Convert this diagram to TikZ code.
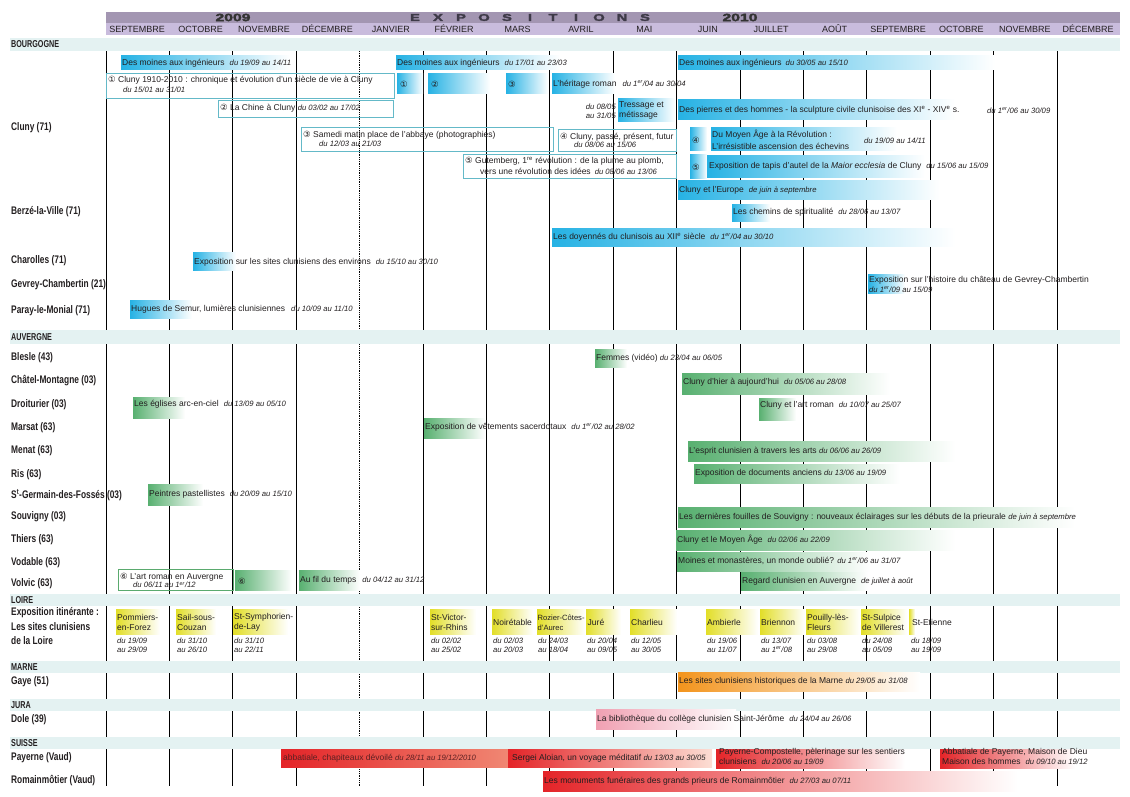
\documentclass[tikz,border=0pt]{standalone}
\usepackage{fontspec}
\setmainfont{Liberation Sans}
\newfontfamily\placefont[FakeStretch=0.76]{Liberation Sans}
\newfontfamily\regionfont[FakeStretch=0.72]{Liberation Sans}
\newfontfamily\widefont[FakeStretch=1.5,FakeBold=3]{Liberation Sans}
\newfontfamily\circfont{DejaVu Sans}

\definecolor{yearbar}{RGB}{163,150,178}
\definecolor{monthbar}{RGB}{201,188,221}
\definecolor{sectbar}{RGB}{228,242,242}
\definecolor{expogrey}{RGB}{62,58,72}
\definecolor{inkx}{RGB}{35,31,32}
\definecolor{cyanx}{RGB}{38,178,228}
\definecolor{greenx}{RGB}{88,176,112}
\definecolor{yellowx}{RGB}{226,222,40}
\definecolor{orangex}{RGB}{243,148,28}
\definecolor{pinkx}{RGB}{240,160,178}
\definecolor{redx}{RGB}{228,36,40}
\definecolor{salmonx}{RGB}{240,135,115}
\definecolor{blushx}{RGB}{252,222,212}
\definecolor{boxline}{RGB}{100,185,200}
\definecolor{greenline}{RGB}{90,170,110}

\newcommand{\dates}[1]{{\fontsize{7.7}{8}\selectfont\itshape #1}}
\newcommand{\circnum}[1]{{\circfont #1}}

\tikzset{
  yearlbl/.style={font=\widefont\bfseries\fontsize{10.5}{11}\selectfont, text=black!80, inner sep=0pt},
  expolbl/.style={font=\widefont\bfseries\fontsize{9.8}{10}\selectfont, text=expogrey, inner sep=0pt},
  monthlbl/.style={font=\fontsize{9}{9}\selectfont, text=inkx, inner sep=0pt},
  region/.style={anchor=west, inner sep=0pt, font=\regionfont\bfseries\fontsize{10}{11}\selectfont, text=inkx},
  place/.style={anchor=west, inner sep=0pt, font=\placefont\bfseries\fontsize{11}{12}\selectfont, text=inkx},
  ev/.style={anchor=west, inner sep=0pt, font=\fontsize{8.5}{10.2}\selectfont, text=inkx, align=left},
  dt/.style={anchor=west, inner sep=0pt, font=\fontsize{7.7}{9}\selectfont\itshape, text=inkx, align=left},
  monthline/.style={line width=0.8pt},
  cyanbar/.style={left color=cyanx, right color=white},
  greenbar/.style={left color=greenx, right color=white},
  yellowbar/.style={left color=yellowx, right color=white},
  orangebar/.style={left color=orangex, right color=white},
  pinkbar/.style={left color=pinkx, right color=white},
  redbar/.style={left color=redx, right color=white},
  bluebox/.style={draw=boxline, line width=0.6pt},
  greenbox/.style={draw=greenline, line width=0.6pt},
}

\begin{document}
\begin{tikzpicture}[x=1pt,y=-1pt]
    \useasboundingbox (0,0) rectangle (1130,797);

    % Header
    \fill[yearbar] (105.5,12) rectangle (1120,23);
    \fill[monthbar] (105.5,23) rectangle (1120,35);
    \node[yearlbl] (y09) at (233,17.5) {2009};
    \node[yearlbl] (y10) at (740,17.5) {2010};
    \foreach \l [count=\i from 0] in {E,X,P,O,S,I,T,I,O,N,S}
        \node[expolbl] (ex\i) at ({415+23*\i},17.5) {\l};
    \foreach \m [count=\i from 0] in {SEPTEMBRE,OCTOBRE,NOVEMBRE,DÉCEMBRE,JANVIER,FÉVRIER,MARS,AVRIL,MAI,JUIN,JUILLET,AOÛT,SEPTEMBRE,OCTOBRE,NOVEMBRE,DÉCEMBRE}
        \node[monthlbl] (mo\i) at ({137.2+63.4*\i},29) {\m};

    % Month lines
    \foreach \i in {0,1,2,3,5,6,...,15}
        \draw[monthline] ({106+63.4*\i},51) -- ({106+63.4*\i},786);
    \draw[monthline, densely dotted] (359.6,51) -- (359.6,786);

    % Regions
    \fill[sectbar] (10,38) rectangle (1120,51);
    \fill[sectbar] (10,330) rectangle (1120,344);
    \fill[sectbar] (10,594) rectangle (1120,606);
    \fill[sectbar] (10,661) rectangle (1120,673);
    \fill[sectbar] (10,699) rectangle (1120,711);
    \fill[sectbar] (10,737) rectangle (1120,749);
    \node[region] (bour) at (11,44.5) {BOURGOGNE};
    \node[region] (auve) at (11,337) {AUVERGNE};
    \node[region] (loir) at (11,600) {LOIRE};
    \node[region] (marn) at (11,667) {MARNE};
    \node[region] (jura) at (11,705) {JURA};
    \node[region] (suis) at (11,743) {SUISSE};

    % Places
    \node[place] (cluny) at (11,128) {Cluny (71)};
    \node[place] (berze) at (11,212) {Berzé-la-Ville (71)};
    \node[place] (charo) at (11,261) {Charolles (71)};
    \node[place] (gevre) at (11,285) {Gevrey-Chambertin (21)};
    \node[place] (paray) at (11,311) {Paray-le-Monial (71)};
    \node[place] (blesl) at (11,358) {Blesle (43)};
    \node[place] (chate) at (11,381) {Châtel-Montagne (03)};
    \node[place] (droit) at (11,405) {Droiturier (03)};
    \node[place] (marsa) at (11,428) {Marsat (63)};
    \node[place] (menat) at (11,451) {Menat (63)};
    \node[place] (ris) at (11,475) {Ris (63)};
    \node[place] (sgerm) at (11,495) {S\textsuperscript{t}-Germain-des-Fossés (03)};
    \node[place] (souvi) at (11,517) {Souvigny (03)};
    \node[place] (thier) at (11,540) {Thiers (63)};
    \node[place] (vodab) at (11,563) {Vodable (63)};
    \node[place] (volvi) at (11,584) {Volvic (63)};
    \node[place] (itin1) at (11,613) {Exposition itinérante :};
    \node[place] (itin2) at (11,627) {Les sites clunisiens};
    \node[place] (itin3) at (11,641) {de la Loire};
    \node[place] (gaye) at (11,682) {Gaye (51)};
    \node[place] (dole) at (11,720) {Dole (39)};
    \node[place] (payer) at (11,758) {Payerne (Vaud)};
    \node[place] (romai) at (11,781) {Romainmôtier (Vaud)};

    % Bourgogne
    \shade[cyanbar] (121,56) rectangle (290,70);
    \shade[cyanbar] (396,56) rectangle (560,70);
    \shade[cyanbar] (678,56) rectangle (995,70);
    \node[ev] (dm1) at (122,63) {Des moines aux ingénieurs\hspace{5pt}\dates{du 19/09 au 14/11}};
    \node[ev] (dm2) at (397,63) {Des moines aux ingénieurs\hspace{5pt}\dates{du 17/01 au 23/03}};
    \node[ev] (dm3) at (679,63) {Des moines aux ingénieurs\hspace{4pt}\dates{du 30/05 au 15/10}};

    \draw[bluebox] (106,73) rectangle (394,98);
    \node[ev] (cl1) at (108,80.5) {\circnum{①} Cluny 1910-2010 : chronique et évolution d'un siècle de vie à Cluny};
    \node[dt] (cl1d) at (123,89.5) {du 15/01 au 31/01};
    \shade[cyanbar] (397,74) rectangle (423,94);
    \shade[cyanbar] (428,74) rectangle (490,94);
    \shade[cyanbar] (506,74) rectangle (548,94);
    \shade[cyanbar] (552,74) rectangle (615,94);
    \node[ev] (nb1) at (400,84) {\circnum{①}};
    \node[ev] (nb2) at (431,84) {\circnum{②}};
    \node[ev] (nb3) at (508,84) {\circnum{③}};
    \node[ev] (heri) at (553,84) {L'héritage roman\hspace{6pt}\dates{du 1\textsuperscript{er}/04 au 30/04}};

    \draw[bluebox] (218,100) rectangle (393,117);
    \node[ev] (chin) at (220,108.5) {\circnum{②} La Chine à Cluny \dates{du 03/02 au 17/02}};
    \node[dt, anchor=east, align=right] (tresd) at (616,111) {du 08/05\\au 31/05};
    \shade[cyanbar] (618,99) rectangle (675,122);
    \node[ev] (tres) at (619,110.5) {Tressage et\\métissage};
    \shade[cyanbar] (678,100) rectangle (955,120);
    \node[ev] (pier) at (679,110) {Des pierres et des hommes - la sculpture civile clunisoise des XI\textsuperscript{e} - XIV\textsuperscript{e} s.};
    \node[dt] (pierd) at (987,111) {du 1\textsuperscript{er}/06 au 30/09};

    \draw[bluebox] (301,127) rectangle (553,151);
    \node[ev] (same) at (303,135) {\circnum{③} Samedi matin place de l'abbaye (photographies)};
    \node[dt] (samed) at (319,143.5) {du 12/03 au 21/03};
    \draw[bluebox] (558,129) rectangle (676,151);
    \node[ev] (pass) at (560,137) {\circnum{④} Cluny, passé, présent, futur};
    \node[dt] (passd) at (574,145) {du 08/06 au 15/06};
    \shade[cyanbar] (690,128) rectangle (707,151);
    \node[ev] (nb4) at (692,140) {\circnum{④}};
    \shade[cyanbar] (711,128) rectangle (897,151);
    \node[ev] (mage) at (712,139.5) {Du Moyen Âge à la Révolution :\\[2pt]L'irrésistible ascension des échevins};
    \node[dt] (maged) at (864,141) {du 19/09 au 14/11};

    \draw[bluebox] (463,154) rectangle (676,178);
    \node[ev] (gute) at (465,161.5) {\circnum{⑤} Gutemberg, 1\textsuperscript{re} révolution : de la plume au plomb,};
    \node[ev] (gute2) at (480,171) {vers une révolution des idées\hspace{4pt}\dates{du 08/06 au 13/06}};
    \shade[cyanbar] (690,155) rectangle (707,178);
    \node[ev] (nb5) at (692,167) {\circnum{⑤}};
    \shade[cyanbar] (707,156) rectangle (925,177);
    \node[ev] (tapi) at (709,166) {Exposition de tapis d'autel de la \textit{Maior ecclesia} de Cluny\hspace{5pt}\dates{du 15/06 au 15/09}};

    \shade[cyanbar] (678,180) rectangle (940,199);
    \node[ev] (euro) at (679,190) {Cluny et l'Europe\hspace{5pt}\dates{de juin à septembre}};

    \shade[cyanbar] (732,204) rectangle (770,221);
    \node[ev] (chem) at (733,212) {Les chemins de spiritualité\hspace{5pt}\dates{du 28/06 au 13/07}};
    \shade[cyanbar] (552,228) rectangle (955,246);
    \node[ev] (doye) at (553,237) {Les doyennés du clunisois au XII\textsuperscript{e} siècle\hspace{5pt}\dates{du 1\textsuperscript{er}/04 au 30/10}};
    \shade[cyanbar] (193,252) rectangle (236,270);
    \node[ev] (envi) at (194,262) {Exposition sur les sites clunisiens des environs\hspace{5pt}\dates{du 15/10 au 30/10}};
    \shade[cyanbar] (868,274) rectangle (905,293);
    \node[ev] (gevr) at (869,280) {Exposition sur l'histoire du château de Gevrey-Chambertin};
    \node[dt] (gevrd) at (869,289.5) {du 1\textsuperscript{er}/09 au 15/09};
    \shade[cyanbar] (130,300) rectangle (192,318);
    \node[ev] (hugu) at (131,309) {Hugues de Semur, lumières clunisiennes\hspace{6pt}\dates{du 10/09 au 11/10}};

    % Auvergne
    \shade[greenbar] (595,349) rectangle (627,367);
    \node[ev] (femm) at (596,358) {Femmes (vidéo) \dates{du 23/04 au 06/05}};
    \shade[greenbar] (682,373) rectangle (890,394);
    \node[ev] (hier) at (683,382) {Cluny d'hier à aujourd'hui\hspace{5pt}\dates{du 05/06 au 28/08}};
    \shade[greenbar] (133,397) rectangle (185,418);
    \node[ev] (egli) at (134,404.5) {Les églises arc-en-ciel\hspace{5pt}\dates{du 13/09 au 05/10}};
    \shade[greenbar] (759,398) rectangle (796,420);
    \node[ev] (artr) at (760,405) {Cluny et l'art roman\hspace{5pt}\dates{du 10/07 au 25/07}};
    \shade[greenbar] (424,418) rectangle (485,438);
    \node[ev] (vete) at (425,427) {Exposition de vêtements sacerdotaux\hspace{5pt}\dates{du 1\textsuperscript{er}/02 au 28/02}};
    \shade[greenbar] (688,441) rectangle (955,461);
    \node[ev] (espr) at (689,451) {L'esprit clunisien à travers les arts \dates{du 06/06 au 26/09}};
    \shade[greenbar] (694,464) rectangle (900,483);
    \node[ev] (docu) at (695,473) {Exposition de documents anciens \dates{du 13/06 au 19/09}};
    \shade[greenbar] (148,484) rectangle (203,505);
    \node[ev] (pein) at (149,494) {Peintres pastellistes\hspace{5pt}\dates{du 20/09 au 15/10}};
    \shade[greenbar] (678,507) rectangle (1075,527);
    \node[ev] (foui) at (679,517) {Les dernières fouilles de Souvigny : nouveaux éclairages sur les débuts de la prieurale \dates{de juin à septembre}};
    \shade[greenbar] (676,530) rectangle (955,550);
    \node[ev] (moya) at (677,540) {Cluny et le Moyen Âge\hspace{5pt}\dates{du 02/06 au 22/09}};
    \shade[greenbar] (677,552) rectangle (870,571);
    \node[ev] (moin) at (678,561) {Moines et monastères, un monde oublié? \dates{du 1\textsuperscript{er}/06 au 31/07}};
    \draw[greenbox] (118,569) rectangle (233,590);
    \node[ev] (arom) at (120,577) {\circnum{⑥} L'art roman en Auvergne};
    \node[dt] (aromd) at (133,585) {du 06/11 au 1\textsuperscript{er}/12};
    \shade[greenbar] (235,570) rectangle (292,590);
    \node[ev] (nb6) at (238,581) {\circnum{⑥}};
    \shade[greenbar] (299,570) rectangle (360,590);
    \node[ev] (afil) at (300,580.5) {Au fil du temps\hspace{6pt}\dates{du 04/12 au 31/12}};
    \shade[greenbar] (741,572) rectangle (868,590);
    \node[ev] (rega) at (742,581) {Regard clunisien en Auvergne\hspace{5pt}\dates{de juillet à août}};

    % Loire
    \shade[yellowbar] (116,609) rectangle (160,634);
    \node[ev] (pomm) at (117,622.5) {Pommiers-\\en-Forez};
    \node[dt] (pommd) at (117,645.5) {du 19/09\\au 29/09};
    \shade[yellowbar] (176,609) rectangle (216,634);
    \node[ev] (sail) at (177,622.5) {Sail-sous-\\Couzan};
    \node[dt] (saild) at (177,645.5) {du 31/10\\au 26/10};
    \shade[yellowbar] (233,609) rectangle (288,634);
    \node[ev] (symp) at (234,622.5) {St-Symphorien-\\de-Lay};
    \node[dt] (sympd) at (234,645.5) {du 31/10\\au 22/11};
    \shade[yellowbar] (430,609) rectangle (476,634);
    \node[ev] (vict) at (431,622.5) {St-Victor-\\sur-Rhins};
    \node[dt] (victd) at (431,645.5) {du 02/02\\au 25/02};
    \shade[yellowbar] (492,609) rectangle (533,634);
    \node[ev] (noir) at (493,622.5) {Noirétable};
    \node[dt] (noird) at (493,645.5) {du 02/03\\au 20/03};
    \shade[yellowbar] (537,609) rectangle (585,634);
    \node[ev, font=\fontsize{7.6}{10.2}\selectfont] (rozi) at (537.5,622.5) {Rozier-Côtes-\\d'Aurec};
    \node[dt] (rozid) at (538,645.5) {du 24/03\\au 18/04};
    \shade[yellowbar] (586,609) rectangle (621,634);
    \node[ev] (jure) at (587.5,622.5) {Juré};
    \node[dt] (jured) at (587,645.5) {du 20/04\\au 09/05};
    \shade[yellowbar] (630,609) rectangle (677,634);
    \node[ev] (char) at (631,622.5) {Charlieu};
    \node[dt] (chard) at (631,645.5) {du 12/05\\au 30/05};
    \shade[yellowbar] (706,609) rectangle (758,634);
    \node[ev] (ambi) at (707,622.5) {Ambierle};
    \node[dt] (ambid) at (707,645.5) {du 19/06\\au 11/07};
    \shade[yellowbar] (760,609) rectangle (805,634);
    \node[ev] (brie) at (761,622.5) {Briennon};
    \node[dt] (bried) at (761,645.5) {du 13/07\\au 1\textsuperscript{er}/08};
    \shade[yellowbar] (806,609) rectangle (860,634);
    \node[ev] (poui) at (807,622.5) {Pouilly-lès-\\Fleurs};
    \node[dt] (pouid) at (807,645.5) {du 03/08\\au 29/08};
    \shade[yellowbar] (861,609) rectangle (907,634);
    \node[ev] (sulp) at (862,622.5) {St-Sulpice\\de Villerest};
    \node[dt] (sulpd) at (862,645.5) {du 24/08\\au 05/09};
    \shade[yellowbar] (909,609) rectangle (915,634);
    \node[ev] (etie) at (912,622.5) {St-Etienne};
    \node[dt] (etied) at (911,645.5) {du 18/09\\au 19/09};

    % Marne, Jura
    \shade[orangebar] (678,672) rectangle (920,691);
    \node[ev] (marne) at (679,681) {Les sites clunisiens historiques de la Marne \dates{du 29/05 au 31/08}};
    \shade[pinkbar] (596,709) rectangle (736,729);
    \node[ev] (bibl) at (597,719) {La bibliothèque du collège clunisien Saint-Jérôme\hspace{5pt}\dates{du 24/04 au 26/06}};

    % Suisse
    \shade[left color=redx, right color=salmonx] (281,749) rectangle (508,767);
    \node[ev, text=inkx!70!redx] (abba) at (283,758) {abbatiale, chapiteaux dévoilé \dates{du 28/11 au 19/12/2010}};
    \shade[left color=redx, right color=blushx] (508,749) rectangle (712,767);
    \node[ev] (serg) at (512,758) {Sergei Aloian, un voyage méditatif \dates{du 13/03 au 30/05}};
    \shade[redbar] (716,749) rectangle (905,768);
    \node[ev] (comp) at (719,752) {Payerne-Compostelle, pèlerinage sur les sentiers};
    \node[ev] (comp2) at (719,761) {clunisiens\hspace{5pt}\dates{du 20/06 au 19/09}};
    \shade[redbar] (940,749) rectangle (1075,768);
    \node[ev] (abpa) at (942,752) {Abbatiale de Payerne, Maison de Dieu};
    \node[ev] (abpa2) at (942,761) {Maison des hommes\hspace{5pt}\dates{du 09/10 au 19/12}};
    \shade[redbar] (543,771) rectangle (1018,791);
    \node[ev] (monu) at (544,781) {Les monuments funéraires des grands prieurs de Romainmôtier\hspace{5pt}\dates{du 27/03 au 07/11}};
\end{tikzpicture}
\end{document}
